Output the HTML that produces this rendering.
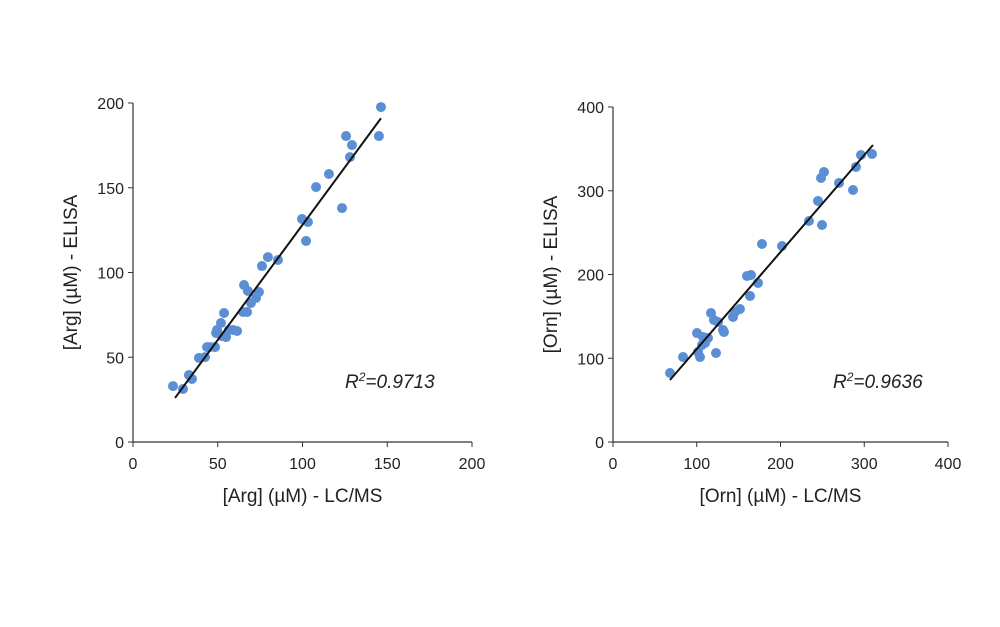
<!DOCTYPE html>
<html><head><meta charset="utf-8"><style>
body{margin:0;background:#fff;}
svg text{font-family:"Liberation Sans",sans-serif;fill:#222;}
</style></head><body>
<svg id="c" width="1000" height="622" xmlns="http://www.w3.org/2000/svg"></svg>
<script>
const argX=[23.6,29.5,33.0,34.8,38.9,42.5,43.7,45.4,48.4,49.0,51.9,49.6,53.7,52.5,54.9,56.6,59.0,61.4,64.9,65.5,67.3,67.8,69.6,72.6,74.3,76.1,79.6,85.5,99.7,102.1,103.2,108.0,115.6,123.3,125.7,129.2,128.0,146.3,145.1];
const argY=[33.0,31.3,39.5,37.2,49.6,50.1,56.0,56.0,56.0,64.3,70.2,66.1,76.1,62.5,61.9,66.1,66.1,65.5,76.7,92.6,76.7,89.1,82.0,85.0,88.5,103.8,109.1,107.4,131.6,118.6,129.8,150.4,158.1,138.0,180.5,175.2,168.1,197.6,180.5];
const argFit=[[24.8,26],[146.3,191]];
const ornX=[68.1,83.6,103.9,101.5,123,100.3,107.5,113.4,106.3,109.9,117,120.6,125.4,132.5,131.3,143.3,151.6,145.7,163.6,160,164.8,173.1,177.9,201.8,234,249.6,244.8,248.4,251.9,269.9,286.6,290.1,296.1,309.3];
const ornY=[82.4,101.5,101.5,107.5,106.3,130.1,125.4,124.2,115.8,118.2,154,145.7,143.3,131.3,133.7,149.3,158.8,155.2,174.3,198.2,199.4,189.9,236.4,234,263.9,259.1,287.8,315.2,322.4,309.3,300.9,328.4,342.7,343.9];
const ornFit=[[68,74],[310.4,354.6]];
const argTicks=[0,50,100,150,200];
const ornTicks=[0,100,200,300,400];
const NS="http://www.w3.org/2000/svg";
const svg=document.getElementById('c');
function mk(t,a,p){const e=document.createElementNS(NS,t);for(const k in a)e.setAttribute(k,a[k]);(p||svg).appendChild(e);return e;}
function chart(cfg){
  const g=mk('g',{});
  
  
  const sx=v=>cfg.x0+(v-cfg.min)/(cfg.max-cfg.min)*(cfg.x1-cfg.x0);
  const sy=v=>cfg.y0-(v-cfg.min)/(cfg.max-cfg.min)*(cfg.y0-cfg.y1);
  const ax=mk('path',{d:`M${cfg.x0},${cfg.y1}V${cfg.y0}H${cfg.x1}`,stroke:'#333','stroke-width':1.2,fill:'none'},g);
  
  
  cfg.ticks.forEach(t=>{
    const tx=mk('line',{x1:sx(t),x2:sx(t),y1:cfg.y0,y2:cfg.y0+5,stroke:'#333'},g);
    
    
    const lx=mk('text',{x:sx(t),y:cfg.y0+27,'text-anchor':'middle','font-size':16},g);lx.textContent=t;
    
    
    const ty=mk('line',{x1:cfg.x0-5,x2:cfg.x0,y1:sy(t),y2:sy(t),stroke:'#333'},g);
    
    
    const ly=mk('text',{x:cfg.x0-9,y:sy(t)+6,'text-anchor':'end','font-size':16},g);ly.textContent=t;
    
    
  });
  cfg.xs.forEach((v,i)=>{
    const c=mk('circle',{cx:sx(v),cy:sy(cfg.ys[i]),r:5,fill:'#5b8fd4'},g);
    
    
  });
  const f=cfg.fit;
  const ln=mk('line',{x1:sx(f[0][0]),y1:sy(f[0][1]),x2:sx(f[1][0]),y2:sy(f[1][1]),stroke:'#111','stroke-width':2},g);
  
  
  const xt=mk('text',{x:(cfg.x0+cfg.x1)/2,y:cfg.y0+60,'text-anchor':'middle','font-size':19},g);xt.textContent=cfg.xt;
  
  
  const cy=(cfg.y0+cfg.y1)/2;
  const yt=mk('text',{x:cfg.x0-56,y:cy,'text-anchor':'middle','font-size':19,transform:`rotate(-90 ${cfg.x0-56} ${cy})`},g);yt.textContent=cfg.yt;
  
  
  const r=mk('text',{x:cfg.rx,y:388,'font-size':19,'font-style':'italic'},g);
  r.innerHTML='R<tspan font-size="12" dy="-7">2</tspan><tspan dy="7">='+cfg.r2+'</tspan>';
  
  
}
chart({name:'arg-chart',x0:133,x1:472,y0:442,y1:103,min:0,max:200,ticks:argTicks,xs:argX,ys:argY,fit:argFit,xt:'[Arg] (µM) - LC/MS',yt:'[Arg] (µM) - ELISA',r2:'0.9713',rx:345});
chart({name:'orn-chart',x0:613,x1:948,y0:442,y1:107,min:0,max:400,ticks:ornTicks,xs:ornX,ys:ornY,fit:ornFit,xt:'[Orn] (µM) - LC/MS',yt:'[Orn] (µM) - ELISA',r2:'0.9636',rx:833});
</script>
</body></html>
